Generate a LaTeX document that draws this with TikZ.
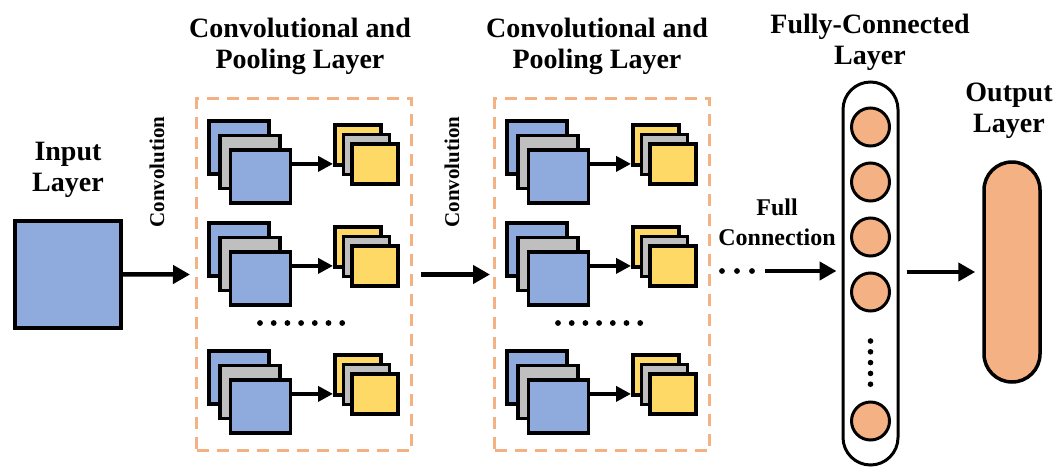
\documentclass[tikz,border=0pt]{standalone}
\usepackage{fontspec}
\setmainfont{Liberation Serif}
\usetikzlibrary{arrows.meta}
\definecolor{cblue}{HTML}{8FAADC}
\definecolor{cgray}{HTML}{BFBFBF}
\definecolor{cyel}{HTML}{FFD966}
\definecolor{corange}{HTML}{F4B183}
\newcommand\mystack[3]{%
 \node[bigsq,fill=cblue] (#1b1) at (#2,#3) {};
 \node[bigsq,fill=cgray] (#1b2) at (#2+11,#3+14.5) {};
 \node[bigsq,fill=cblue] (#1b3) at (#2+21.5,#3+29) {};
 \node[smallsq,fill=cyel] (#1y1) at (#2+126,#3+4) {};
 \node[smallsq,fill=cgray] (#1y2) at (#2+134.5,#3+13.5) {};
 \node[smallsq,fill=cyel] (#1y3) at (#2+143,#3+23) {};
 \draw[sarr] (#1b3.east |- #1y3.center) -- (#1y1.west |- #1y3.center);
}
\begin{document}
\begin{tikzpicture}[x=1pt,y=-1pt,
  sq/.style={draw=black,line width=3.8pt,anchor=north west,inner sep=0pt},
  bigsq/.style={sq,minimum width=60pt,minimum height=53pt},
  smallsq/.style={sq,minimum width=46pt,minimum height=40pt},
  arr/.style={line width=4.5pt,-{Triangle[length=17pt,width=18pt]}},
  sarr/.style={line width=4pt,-{Triangle[length=15pt,width=15pt]}},
  title/.style={font=\bfseries\fontsize{28}{31}\selectfont,align=center,inner sep=0pt},
  conv/.style={font=\bfseries\fontsize{21}{24}\selectfont,rotate=90,inner sep=0pt},
  dbox/.style={draw=corange,line width=3pt,dash pattern=on 12pt off 8pt,anchor=north west,minimum width=215pt,minimum height=352pt,inner sep=0pt},
  neuron/.style={circle,draw=black,line width=3pt,fill=corange,minimum size=38pt,inner sep=0pt}
]
\useasboundingbox (0,0) rectangle (1059,466);
% titles
\node[title] (t1) at (300,46) {Convolutional and\\Pooling Layer};
\node[title] (t2) at (597,46) {Convolutional and\\Pooling Layer};
\node[title] (t3) at (870,42) {Fully-Connected\\Layer};
\node[title] (t4) at (1009,111) {Output\\Layer};
\node[title] (t0) at (68,170) {Input\\Layer};
% input
\node[sq,fill=cblue,minimum width=106pt,minimum height=107pt] (in) at (13,219) {};
% convolution labels
\node[conv] (c1) at (157,172) {Convolution};
\node[conv] (c2) at (452,172) {Convolution};
% dashed boxes
\node[dbox] (box1) at (195,97) {};
\node[dbox] (box2) at (493,97) {};
% stacks
\mystack{a}{207}{119}
\mystack{b}{207}{221}
\mystack{c}{207}{349}
\mystack{d}{505}{119}
\mystack{e}{505}{221}
\mystack{f}{505}{349}
\foreach \i in {0,...,6} {
  \fill (260+\i*13.7,323) circle (2.9);
  \fill (558+\i*13.7,323) circle (2.9);
}
% main arrows
\draw[arr,shorten >=5pt] (in.east) -- (box1.west);
\draw[arr,shorten <=8pt,shorten >=3pt] (box1.east) -- (box2.west);
% FC layer
\node[draw=black,line width=3pt,rounded corners=27.5pt,minimum width=55pt,minimum height=383pt,inner sep=0pt] (fc) at (870.5,273.5) {};
\node[neuron] (n1) at (870.5,127) {};
\node[neuron] (n2) at (870.5,182) {};
\node[neuron] (n3) at (870.5,237) {};
\node[neuron] (n4) at (870.5,292) {};
\node[neuron] (n5) at (870.5,421) {};
\foreach \i in {0,...,4} \fill (870.5,341+\i*10.8) circle (2.8);
\foreach \i in {0,...,2} \fill (722+\i*15,271) circle (2.9);
\coordinate (fcin) at (765,271);
\draw[arr,shorten >=5pt] (fcin) -- (fc.west |- fcin);
\node[font=\bfseries\fontsize{24}{30}\selectfont,align=center,inner sep=0pt] (fl) at (777,222) {Full\\Connection};
% output
\node[draw=black,line width=3.5pt,fill=corange,rounded corners=28pt,minimum width=56pt,minimum height=220pt,inner sep=0pt] (out) at (1012,272) {};
\draw[arr,shorten <=7pt,shorten >=7pt] (fc.east |- out.west) -- (out.west);
\end{tikzpicture}
\end{document}
